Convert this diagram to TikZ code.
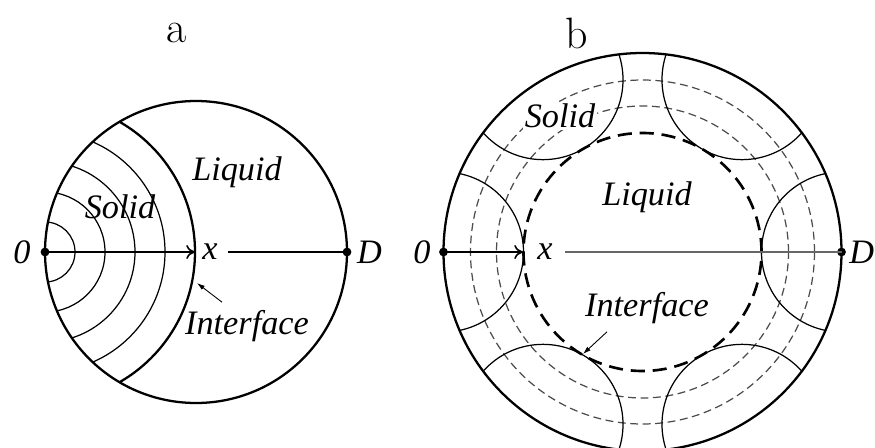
\documentclass[tikz,border=0pt]{standalone}
\usepackage{fontspec}
\usepackage{tikz}
\usetikzlibrary{arrows.meta}
\newfontfamily\lblfont{Liberation Serif}
\tikzset{
  rim/.style={line width=1.3pt},
  arc/.style={line width=0.7pt},
  front/.style={line width=1.3pt},
  ifc/.style={line width=1.5pt,dash pattern=on 8pt off 4.5pt},
  lay/.style={line width=0.7pt,black!70,dash pattern=on 4.5pt off 2.6pt},
  ax/.style={line width=0.9pt,-{To[length=5pt,width=8pt]}},
  rest/.style={line width=0.7pt},
  ptr/.style={line width=0.5pt,-{Latex[length=4.5pt,width=2.8pt]}},
  lbl/.style={font=\lblfont\itshape\fontsize{19.5}{22}\selectfont,inner sep=1pt},
  ttl/.style={font=\fontsize{25}{28}\selectfont},
  pt/.style={circle,fill,inner sep=0pt,minimum size=5pt}
}
\newcommand{\grain}[1]{\draw[arc] ([shift={(#1:199)}]cb) circle (80);}

\begin{document}
\begin{tikzpicture}[x=0.02cm,y=0.02cm]
\useasboundingbox (0,0) rectangle (875,447);
% a: solid grows from one side
\coordinate (ca) at (196,195);
\node[pt] (oa) at (45,195) {};
\node[pt] (da) at (347,195) {};
\coordinate (xa) at (195,195);
\begin{scope}
\clip (ca) circle (151);
\draw[arc] (oa.center) circle (30);
\draw[arc] (oa.center) circle (60);
\draw[arc] (oa.center) circle (90);
\draw[arc] (oa.center) circle (120);
\draw[front] (oa.center) circle (150);
\end{scope}
\draw[rim] (ca) circle (151);
\node[ttl] (ta) at (177,414) {a};
\node[lbl] (n0a) at (22,195) {0};
\node[lbl] (nxa) at (210,195) {x};
\node[lbl,anchor=west] (nda) at (355,195) {D};
\node[lbl] (sola) at (120,240) {Solid};
\node[lbl] (liqa) at (237,275) {Liquid};
\node[lbl] (inta) at (247,121) {Interface};
\coordinate (ia) at (197,164);
\draw[ax] (oa.center) -- (xa);
\draw[rest] ([xshift=5pt]nxa.east) -- (da.center);
\draw[ptr] ([shift={(-25,6)}]inta.north) -- (ia);
% b: solid grows from the wall all round
\coordinate (cb) at (642.5,195);
\node[pt] (ob) at (443.5,195) {};
\node[pt] (db) at (841.5,195) {};
\coordinate (xb) at (523,195);
\draw[lay] (cb) circle (172);
\draw[lay] (cb) circle (146);
\draw[ifc] (cb) circle (119);
\begin{scope}
\clip (cb) circle (199);
\grain{0}
\grain{60}
\grain{120}
\grain{180}
\grain{240}
\grain{300}
\end{scope}
\draw[rim] (cb) circle (199);
\node[ttl] (tb) at (577,414) {b};
\node[lbl] (n0b) at (422,195) {0};
\node[lbl] (nxb) at (545,195) {x};
\node[lbl,anchor=west,inner sep=0pt] (ndb) at (849,195) {D};
\node[lbl,fill=white] (solb) at (560,331) {Solid};
\node[lbl] (liqb) at (647,250) {Liquid};
\node[lbl] (intb) at (647,139) {Interface};
\coordinate (ib) at (583,93);
\draw[ax] (ob.center) -- (xb);
\draw[rest,black!60] ([xshift=6pt]nxb.east) -- (db.center);
\draw[ptr] ([shift={(-40,-6)}]intb.south) -- (ib);
\end{tikzpicture}
\end{document}
